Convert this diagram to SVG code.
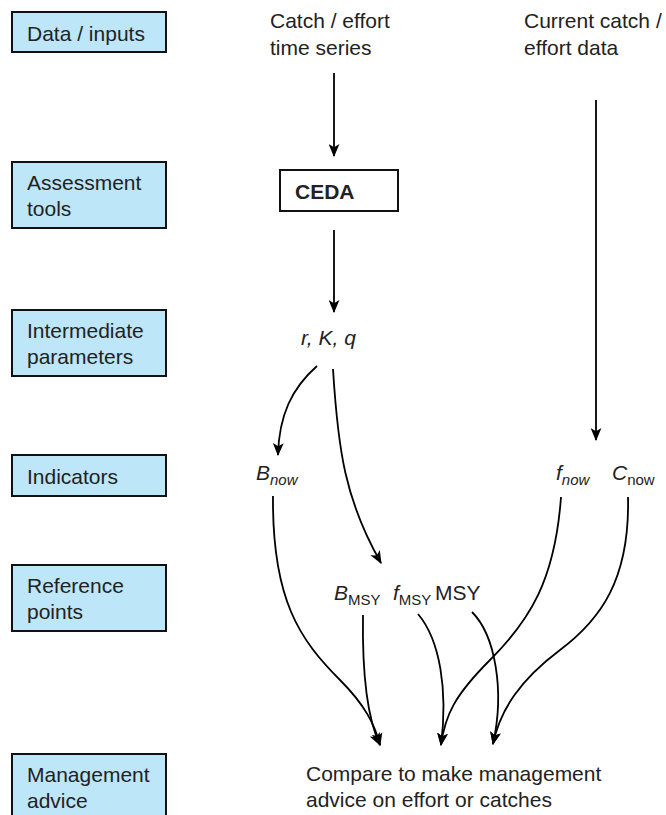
<svg xmlns="http://www.w3.org/2000/svg" width="666" height="815" viewBox="0 0 666 815">
<defs>
<marker id="ah" viewBox="0 0 12 10" markerWidth="13" markerHeight="11" refX="11" refY="5" orient="auto" markerUnits="userSpaceOnUse">
<path d="M0,0 L12,5 L0,10 L3,5 z" fill="#000"/>
</marker>
<style>
.stage{fill:#bde6f8;stroke:#111;stroke-width:2}
.t{font-family:"Liberation Sans",Arial,sans-serif;font-size:21px;fill:#222}
.it{font-style:italic}
.sub{font-size:15px}
.c{fill:none;stroke:#000;stroke-width:1.8;marker-end:url(#ah)}
</style>
</defs>
<rect width="666" height="815" fill="#fff"/>

<g id="stage-data"><rect class="stage" x="12" y="12" width="154" height="40"/><text class="t" x="27" y="41">Data / inputs</text></g>
<g id="stage-assess"><rect class="stage" x="12" y="162" width="154" height="66"/><text class="t" x="27" y="190">Assessment</text><text class="t" x="27" y="216">tools</text></g>
<g id="stage-inter"><rect class="stage" x="12" y="310" width="154" height="66"/><text class="t" x="27" y="338">Intermediate</text><text class="t" x="27" y="364">parameters</text></g>
<g id="stage-ind"><rect class="stage" x="12" y="455" width="154" height="41"/><text class="t" x="27" y="484">Indicators</text></g>
<g id="stage-ref"><rect class="stage" x="12" y="565" width="154" height="66"/><text class="t" x="27" y="593">Reference</text><text class="t" x="27" y="619">points</text></g>
<g id="stage-mgmt"><rect class="stage" x="12" y="754" width="154" height="70"/><text class="t" x="27" y="782">Management</text><text class="t" x="27" y="808">advice</text></g>

<g id="n-catch-series"><text class="t" x="270" y="28">Catch / effort</text><text class="t" x="270" y="55">time series</text></g>
<g id="n-current"><text class="t" x="524" y="28">Current catch /</text><text class="t" x="524" y="55">effort data</text></g>
<g id="n-ceda"><rect x="280" y="170" width="118" height="41" fill="#fff" stroke="#111" stroke-width="2"/><text class="t" x="295" y="199" font-weight="bold">CEDA</text></g>
<g id="n-rkq"><text class="t it" x="301" y="345">r, K, q</text></g>
<g id="n-bnow"><text class="t" x="256" y="480"><tspan class="it">B</tspan><tspan class="it sub" dy="5">now</tspan></text></g>
<g id="n-fnow"><text class="t" x="556" y="480"><tspan class="it">f</tspan><tspan class="it sub" dy="5">now</tspan></text></g>
<g id="n-cnow"><text class="t" x="612" y="480"><tspan class="it">C</tspan><tspan class="sub" dy="5">now</tspan></text></g>
<g id="n-bmsy"><text class="t" x="334" y="600"><tspan class="it">B</tspan><tspan class="sub" dy="5">MSY</tspan></text></g>
<g id="n-fmsy"><text class="t" x="393" y="600"><tspan class="it">f</tspan><tspan class="sub" dy="5">MSY</tspan></text></g>
<g id="n-msy"><text class="t" x="435" y="600">MSY</text></g>
<g id="n-compare"><text class="t" x="306" y="781">Compare to make management</text><text class="t" x="306" y="807">advice on effort or catches</text></g>

<g id="connectors">
<path class="c" d="M334,73 L334,156"/>
<path class="c" d="M334,230 L334,312"/>
<path class="c" d="M596,100 L596,440"/>
<path class="c" d="M317,366 C292,388 279,415 278,455"/>
<path class="c" d="M333,369 C338,450 345,500 381,563"/>
<path class="c" d="M273,496 C272,600 300,640 340,680 C365,705 375,725 380,745"/>
<path class="c" d="M363,615 C362,680 368,720 380,745"/>
<path class="c" d="M418,614 C440,640 448,690 441,745"/>
<path class="c" d="M561,497 C555,580 530,620 490,660 C455,695 445,715 441,745"/>
<path class="c" d="M472,612 C495,635 505,690 493,744"/>
<path class="c" d="M628,497 C630,580 600,620 560,650 C520,680 500,710 493,744"/>
</g>
</svg>
